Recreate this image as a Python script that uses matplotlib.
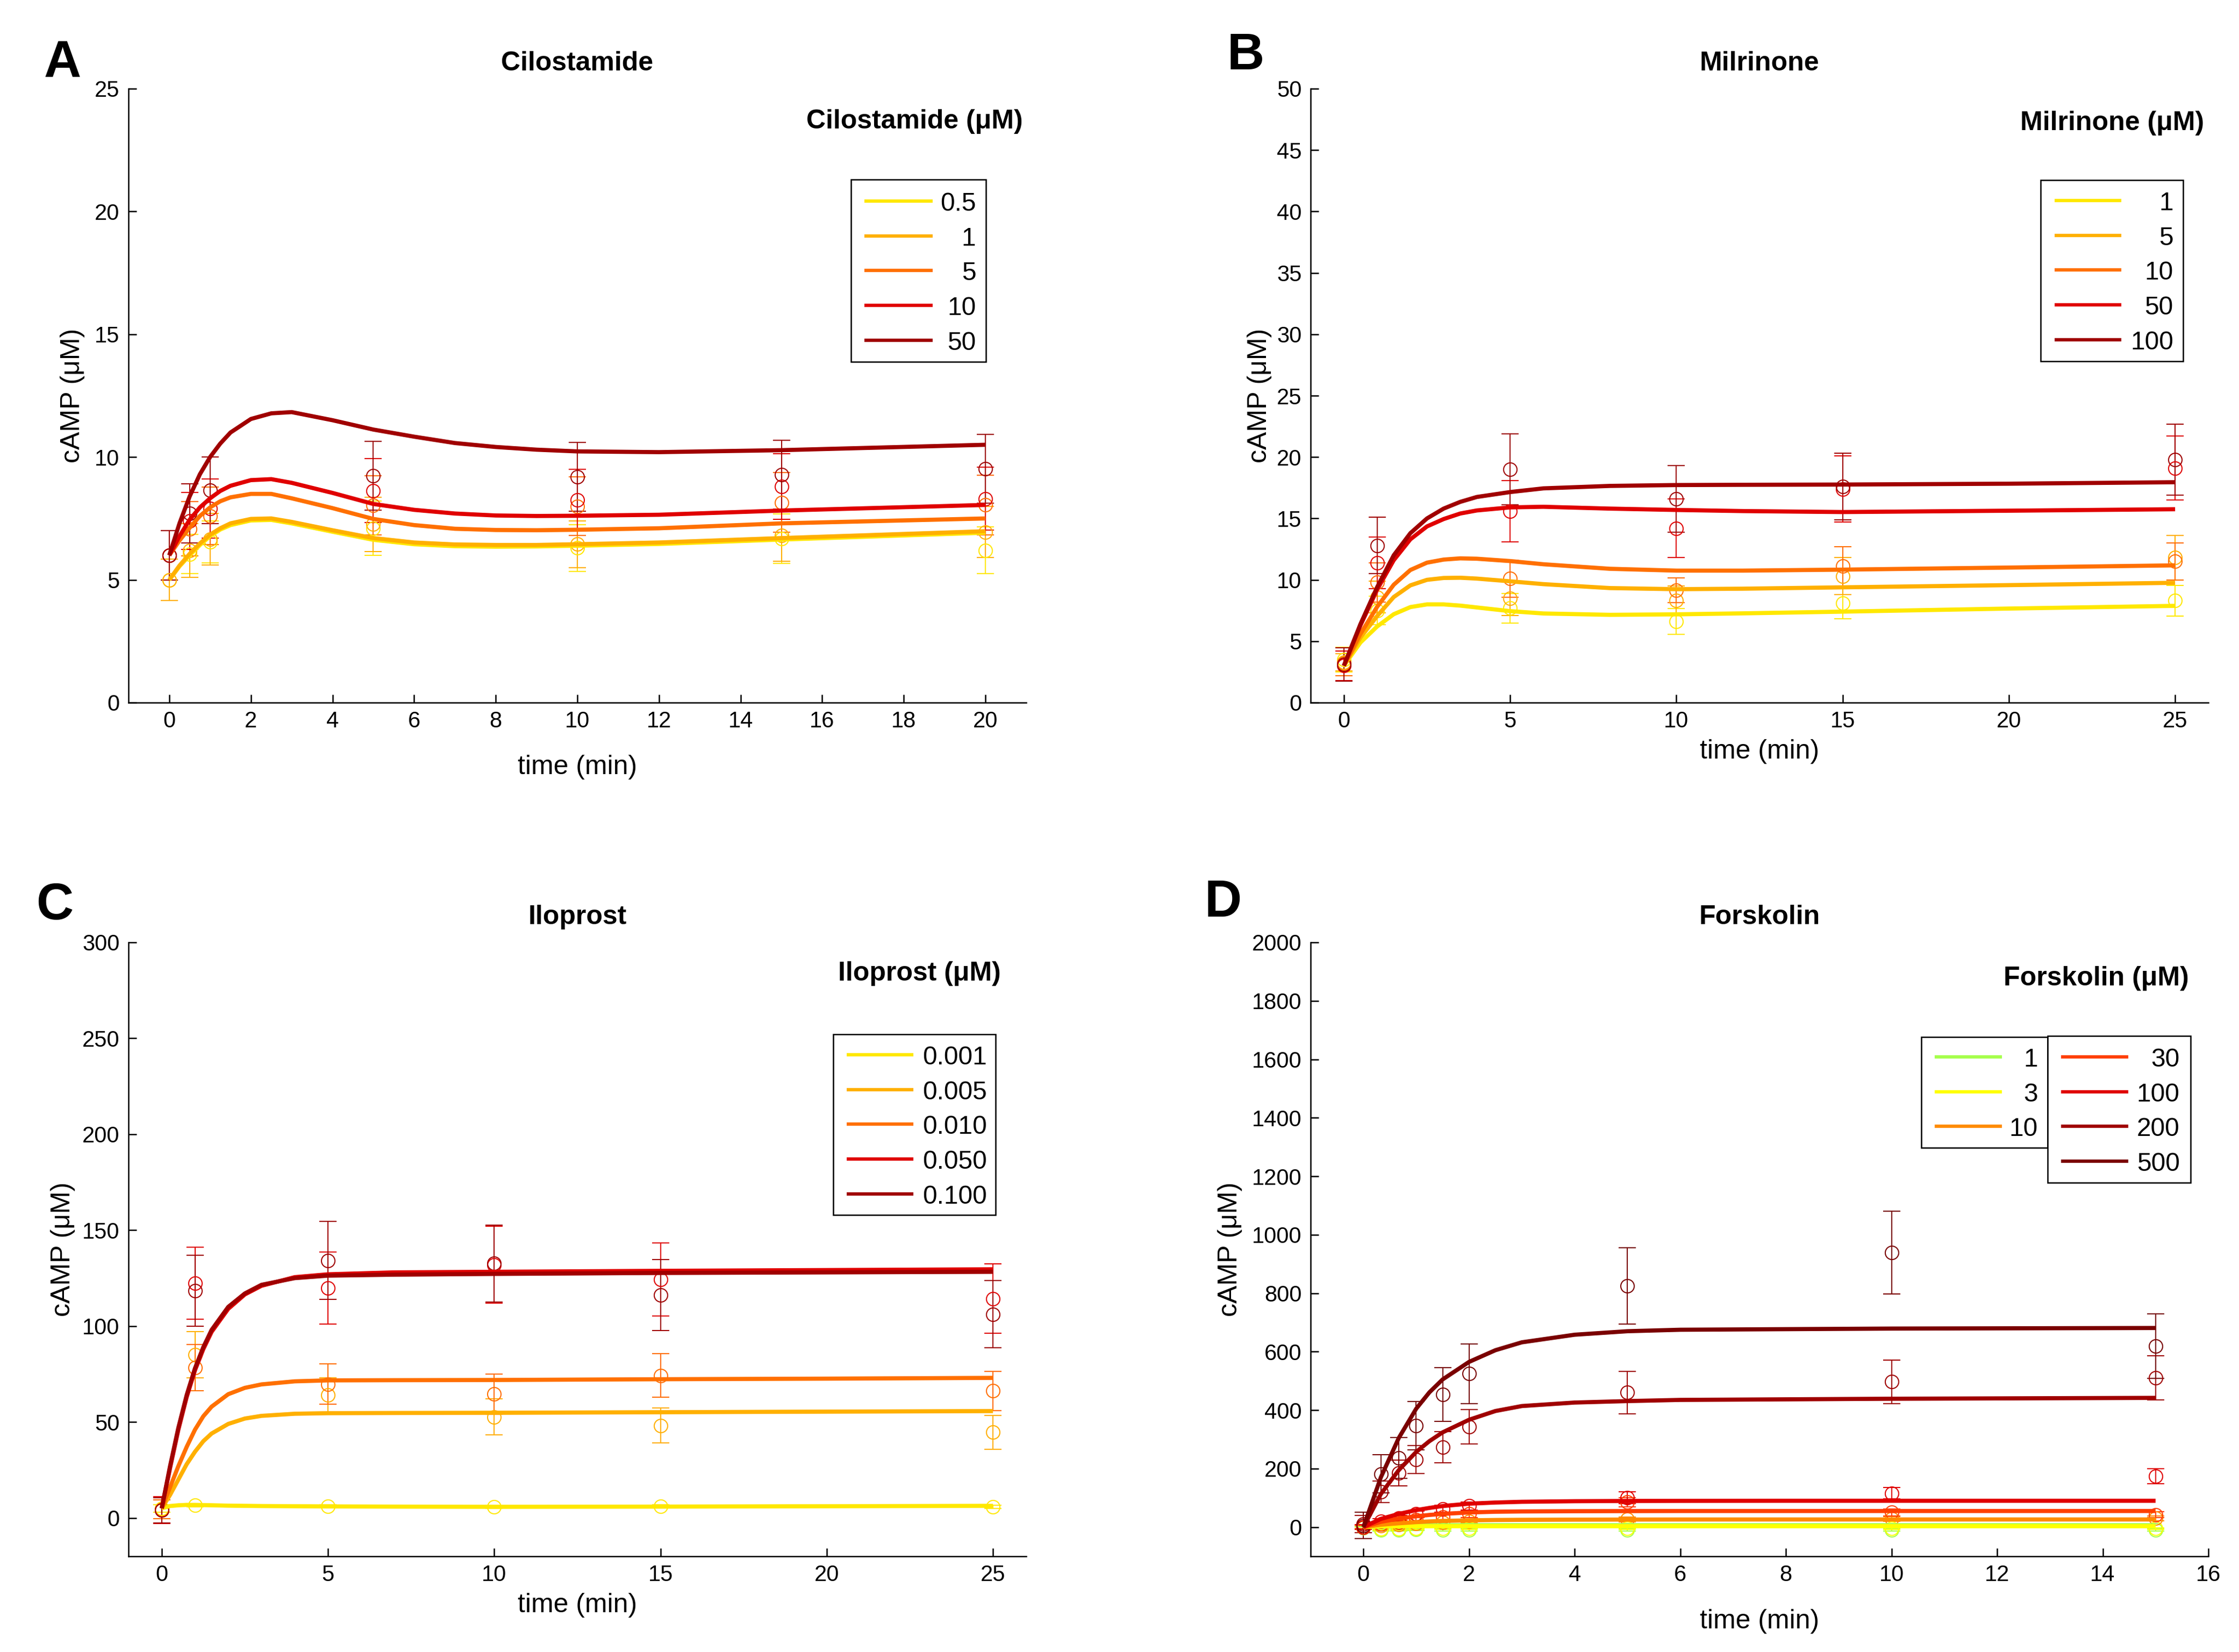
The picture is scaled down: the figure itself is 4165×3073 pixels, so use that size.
import matplotlib
matplotlib.use("Agg")
import matplotlib.pyplot as plt
from matplotlib.lines import Line2D
from matplotlib.patches import Rectangle
from matplotlib import font_manager as fm

_names = {f.name for f in fm.fontManager.ttflist}
FONT = 'Liberation Sans' if 'Liberation Sans' in _names else 'DejaVu Sans'
plt.rcParams['font.family'] = [FONT, 'DejaVu Sans']

# ---------------- Panel A: Cilostamide ----------------
A_labels = ['0.5', '1', '5', '10', '50']
A_colors = ['#FFE800', '#FFB000', '#FF7000', '#E00000', '#A00000']
A_t_fit = [0, 0.25, 0.5, 0.75, 1, 1.25, 1.5, 2, 2.5, 3, 4, 5, 6, 7, 8, 9, 10, 12, 15, 20]
A_fit_05 = [5.0, 5.55, 6.0, 6.42, 6.78, 7.05, 7.23, 7.42, 7.44, 7.3, 6.96, 6.63, 6.45, 6.37, 6.35, 6.36, 6.39, 6.46, 6.64, 6.92]
A_fit_1 = [5.0, 5.58, 6.06, 6.48, 6.84, 7.1, 7.3, 7.48, 7.5, 7.36, 7.02, 6.7, 6.52, 6.44, 6.42, 6.42, 6.45, 6.52, 6.7, 6.98]
A_fit_5 = [6.0, 6.6, 7.12, 7.6, 7.95, 8.2, 8.36, 8.5, 8.5, 8.32, 7.92, 7.48, 7.23, 7.08, 7.03, 7.02, 7.04, 7.1, 7.3, 7.5]
A_fit_10 = [6.0, 6.78, 7.45, 7.95, 8.32, 8.62, 8.83, 9.06, 9.1, 8.95, 8.54, 8.09, 7.85, 7.7, 7.62, 7.6, 7.61, 7.65, 7.82, 8.05]
A_fit_50 = [6.0, 7.3, 8.4, 9.3, 10.0, 10.55, 11.0, 11.55, 11.78, 11.83, 11.5, 11.12, 10.83, 10.57, 10.41, 10.3, 10.23, 10.2, 10.28, 10.5]
A_t_obs = [0, 0.5, 1, 5, 10, 15, 20]
A_obs_05 = [5.0, 6.05, 6.55, 7.1, 6.3, 6.68, 6.2]
A_err_05 = [0.85, 0.8, 0.85, 1.1, 0.95, 1.0, 0.95]
A_obs_1 = [5.0, 6.2, 6.65, 7.26, 6.45, 6.8, 6.95]
A_err_1 = [0.85, 1.1, 1.05, 1.1, 0.95, 1.05, 1.05]
A_obs_5 = [6.0, 7.08, 7.6, 8.04, 8.0, 8.15, 8.05]
A_err_5 = [1.0, 1.1, 1.17, 1.2, 1.2, 1.22, 1.22]
A_obs_10 = [6.0, 7.4, 7.9, 8.63, 8.25, 8.8, 8.3]
A_err_10 = [1.0, 1.15, 1.2, 1.3, 1.25, 1.33, 1.28]
A_obs_50 = [6.0, 7.7, 8.65, 9.23, 9.2, 9.28, 9.52]
A_err_50 = [1.0, 1.2, 1.35, 1.4, 1.4, 1.4, 1.4]

# ---------------- Panel B: Milrinone ----------------
B_labels = ['1', '5', '10', '50', '100']
B_colors = ['#FFE800', '#FFB000', '#FF7000', '#E00000', '#A00000']
B_t_fit = [0, 0.5, 1, 1.5, 2, 2.5, 3, 3.5, 4, 5, 6, 8, 10, 12, 15, 20, 25]
B_fit_1 = [3.0, 4.9, 6.2, 7.2, 7.78, 8.0, 8.0, 7.9, 7.75, 7.45, 7.26, 7.15, 7.19, 7.27, 7.41, 7.66, 7.88]
B_fit_5 = [3.0, 5.3, 7.05, 8.6, 9.55, 10.0, 10.15, 10.17, 10.1, 9.88, 9.65, 9.33, 9.24, 9.28, 9.39, 9.57, 9.76]
B_fit_10 = [3.0, 5.6, 7.8, 9.6, 10.8, 11.4, 11.65, 11.75, 11.72, 11.53, 11.27, 10.9, 10.75, 10.75, 10.83, 11.0, 11.18]
B_fit_50 = [3.0, 6.3, 9.2, 11.6, 13.3, 14.35, 14.95, 15.4, 15.65, 15.9, 15.95, 15.8, 15.69, 15.6, 15.52, 15.63, 15.75]
B_fit_100 = [3.0, 6.4, 9.4, 12.0, 13.8, 15.0, 15.8, 16.35, 16.75, 17.15, 17.45, 17.65, 17.72, 17.74, 17.76, 17.83, 17.95]
B_t_obs = [0, 1, 5, 10, 15, 25]
B_obs_1 = [3.5, 7.5, 7.7, 6.6, 8.1, 8.3]
B_err_1 = [1.0, 1.15, 1.2, 1.05, 1.25, 1.25]
B_obs_5 = [3.3, 8.6, 8.5, 8.3, 10.3, 11.8]
B_err_5 = [0.7, 1.3, 1.4, 1.2, 1.5, 1.8]
B_obs_10 = [3.2, 9.8, 10.1, 9.15, 11.1, 11.5]
B_err_10 = [1.0, 1.6, 1.5, 1.0, 1.6, 1.5]
B_obs_50 = [3.0, 11.4, 15.6, 14.2, 17.4, 19.1]
B_err_50 = [1.2, 2.1, 2.5, 2.4, 2.7, 2.6]
B_obs_100 = [3.1, 12.8, 19.0, 16.6, 17.6, 19.8]
B_err_100 = [1.35, 2.3, 2.9, 2.7, 2.7, 2.9]

# ---------------- Panel C: Iloprost ----------------
C_labels = ['0.001', '0.005', '0.010', '0.050', '0.100']
C_colors = ['#FFE800', '#FFB000', '#FF7000', '#E00000', '#A00000']
C_t_fit = [0, 0.25, 0.5, 0.75, 1, 1.25, 1.5, 2, 2.5, 3, 4, 5, 7, 10, 15, 20, 25]
C_fit_0001 = [5, 6.2, 6.6, 6.8, 6.8, 6.7, 6.6, 6.4, 6.3, 6.2, 6.1, 6.0, 5.9, 5.8, 5.9, 6.1, 6.3]
C_fit_0005 = [5, 12, 20, 28, 34.5, 40, 44, 49, 51.8, 53.2, 54.3, 54.6, 54.7, 54.8, 55.1, 55.4, 55.7]
C_fit_0010 = [5, 16, 27, 37, 46, 53, 58, 64.5, 67.8, 69.6, 71.2, 71.7, 71.8, 71.9, 72.3, 72.6, 73.0]
C_fit_0050 = [5, 26, 46, 63, 77, 88, 97, 109, 116.5, 121, 125.5, 127, 128, 128.3, 128.8, 129.2, 129.6]
C_fit_0100 = [5, 27, 47, 64, 78, 89, 98, 110, 117, 121.5, 125, 126.3, 126.8, 127.2, 127.7, 128.0, 128.3]
C_t_obs = [0, 1, 5, 10, 15, 25]
C_obs_0001 = [5, 6.5, 6.0, 5.8, 6.0, 5.8]
C_err_0001 = [2, 0.8, 0.8, 0.8, 0.8, 0.8]
C_obs_0005 = [4.5, 85, 64, 52.7, 48.2, 44.6]
C_err_0005 = [5, 12, 9, 9.4, 9, 8.7]
C_obs_0010 = [4.5, 78.4, 69.7, 64.6, 74.2, 66.2]
C_err_0010 = [5, 12, 10.5, 10.5, 11.3, 10.3]
C_obs_0050 = [4, 122.4, 119.8, 132, 124.3, 114.3]
C_err_0050 = [7, 18.7, 18.7, 20, 19, 18]
C_obs_0100 = [4, 118.4, 134.2, 132.6, 116.2, 106.2]
C_err_0100 = [6.5, 18.6, 20.3, 20, 18.5, 17.5]

# ---------------- Panel D: Forskolin ----------------
D_labels = ['1', '3', '10', '30', '100', '200', '500']
D_colors = ['#A6FF4D', '#FFFF00', '#FF8C00', '#FF4000', '#E00000', '#A00000', '#7A0000']
D_t_fit = [0, 0.33, 0.67, 1, 1.25, 1.5, 2, 2.5, 3, 4, 5, 6, 8, 10, 15]
D_fit_1 = [0, 4, 5.5, 6, 6.2, 6.3, 6.5, 6.5, 6.5, 6.5, 6.5, 6.5, 6.5, 6.5, 6.5]
D_fit_3 = [0, 2, 2.6, 2.9, 3, 3, 3, 3, 3, 3, 3, 3, 3, 3, 3]
D_fit_10 = [0, 8, 13, 17, 19.2, 21, 23, 24.2, 24.8, 25.4, 25.7, 25.9, 26, 26, 26]
D_fit_30 = [0, 18, 29, 37, 41.5, 45, 50, 52.5, 53.5, 54.3, 54.7, 55, 55, 55, 55]
D_fit_100 = [0, 28, 45, 58, 65.5, 72, 80, 84, 86.5, 88.5, 89.3, 89.7, 90, 90, 90]
D_fit_200 = [0, 113, 195, 257, 294, 324, 367, 397, 414, 426, 431, 435, 437, 439, 442]
D_fit_500 = [0, 170, 305, 405, 461, 505, 565, 605, 632, 658, 670, 675, 677, 679, 681]
D_t_obs = [0, 0.33, 0.67, 1, 1.5, 2, 5, 10, 15]
D_obs_1 = [-2, -10, -10, -8, -10, -10, -10, -10, -10]
D_err_1 = [4, 3, 3, 3, 3, 3, 3, 3, 3]
D_obs_3 = [0, -6, -6, -5, -5, -5, -5, -5, -5]
D_err_3 = [4, 3, 3, 3, 3, 3, 3, 3, 3]
D_obs_10 = [0, 5, 8, 12, 15, 20, 26, 28, 30]
D_err_10 = [5, 4, 5, 5, 6, 6, 8, 8, 8]
D_obs_30 = [0, 10, 15, 25, 35, 45, 85, 50, 42]
D_err_30 = [6, 6, 8, 8, 10, 12, 15, 12, 10]
D_obs_100 = [0, 20, 30, 45, 62, 72, 100, 116, 174]
D_err_100 = [8, 8, 10, 10, 12, 14, 20, 20, 26]
D_obs_200 = [10, 121, 185, 231, 273, 343, 460, 497, 510]
D_err_200 = [30, 37, 45, 47, 53, 59, 72, 75, 75]
D_obs_500 = [5, 182, 236, 347, 454, 525, 825, 939, 619]
D_err_500 = [45, 65, 70, 83, 92, 102, 130, 141, 111]

# ---------------- drawing helpers ----------------
W, H = 4165, 3073
fig = plt.figure(figsize=(W / 300, H / 300), dpi=300)
fig.patch.set_facecolor('white')

AX_W = 1670 / W
AX_H = 1142 / H
L1, L2 = 239 / W, 2438 / W
B1, B2 = 1 - 1307 / H, 1 - 2895 / H

ROW = 64.7 / 1142      # legend row spacing in axes fraction
BASE = 18 / 1142       # text baseline below line centre


def draw_panel(ax, t_fit, fits, t_obs, obs, errs, colors):
    for f, c in zip(fits, colors):
        ax.plot(t_fit, f, color=c, lw=1.85, solid_capstyle='butt',
                solid_joinstyle='round', zorder=3)
    for m, e, c in zip(obs, errs, colors):
        ax.errorbar(t_obs, m, yerr=e, fmt='o', color=c, mfc='none', mec=c,
                    ms=6, mew=0.5, elinewidth=0.5, capsize=3.8, capthick=0.8,
                    zorder=2)


def style_axes(ax, xlim, ylim, xticks, yticks):
    ax.set_xlim(*xlim)
    ax.set_ylim(*ylim)
    ax.set_xticks(xticks)
    ax.set_yticks(yticks)
    for s in ('top', 'right'):
        ax.spines[s].set_visible(False)
    for s in ('left', 'bottom'):
        ax.spines[s].set_linewidth(0.6)
    ax.tick_params(axis='both', direction='in', length=3.5, width=0.6,
                   labelsize=10)
    ax.tick_params(axis='x', pad=3.5)
    ax.tick_params(axis='y', pad=4)


def labels(ax, title, xl_y, yl_x, leg_title, lt_x, lt_y):
    ax.text(0.5, 1.030, title, transform=ax.transAxes, ha='center',
            va='baseline', fontsize=12, fontweight='bold')
    ax.set_xlabel('time (min)', fontsize=12)
    ax.xaxis.set_label_coords(0.5, xl_y)
    ax.xaxis.label.set_verticalalignment('center')
    ax.set_ylabel('cAMP (\u03bcM)', fontsize=12)
    ax.yaxis.set_label_coords(yl_x, 0.5)
    ax.yaxis.label.set_verticalalignment('center')
    ax.text(lt_x, lt_y, leg_title, transform=ax.transAxes, ha='right',
            va='baseline', fontsize=12, fontweight='bold')


def draw_legend(ax, labs, cols, box, line_x, text_x, y0):
    x0, x1, yb, yt = box
    ax.add_patch(Rectangle((x0, yb), x1 - x0, yt - yb, transform=ax.transAxes,
                           facecolor='white', edgecolor='black', lw=0.6,
                           zorder=5, clip_on=False))
    for i, (lab, col) in enumerate(zip(labs, cols)):
        y = y0 - i * ROW
        ax.add_line(Line2D(line_x, [y, y], transform=ax.transAxes, color=col,
                           lw=1.5, solid_capstyle='butt', zorder=6,
                           clip_on=False))
        ax.text(text_x, y - BASE, lab, transform=ax.transAxes, ha='right',
                va='baseline', fontsize=11.5, zorder=6)


# ---------------- Panel A ----------------
axA = fig.add_axes([L1, B1, AX_W, AX_H])
draw_panel(axA, A_t_fit, [A_fit_05, A_fit_1, A_fit_5, A_fit_10, A_fit_50],
           A_t_obs, [A_obs_05, A_obs_1, A_obs_5, A_obs_10, A_obs_50],
           [A_err_05, A_err_1, A_err_5, A_err_10, A_err_50], A_colors)
style_axes(axA, (-1, 21), (0, 25), range(0, 21, 2), range(0, 26, 5))
labels(axA, 'Cilostamide', -0.105, -0.062, 'Cilostamide (\u03bcM)', 0.996, 0.935)
draw_legend(axA, A_labels, A_colors, (0.805, 0.955, 0.555, 0.852),
            [0.820, 0.896], 0.944, 0.817)

# ---------------- Panel B ----------------
axB = fig.add_axes([L2, B1, AX_W, AX_H])
draw_panel(axB, B_t_fit, [B_fit_1, B_fit_5, B_fit_10, B_fit_50, B_fit_100],
           B_t_obs, [B_obs_1, B_obs_5, B_obs_10, B_obs_50, B_obs_100],
           [B_err_1, B_err_5, B_err_10, B_err_50, B_err_100], B_colors)
style_axes(axB, (-1, 26), (0, 50), range(0, 26, 5), range(0, 51, 5))
labels(axB, 'Milrinone', -0.080, -0.057, 'Milrinone (\u03bcM)', 0.995, 0.933)
draw_legend(axB, B_labels, B_colors, (0.813, 0.972, 0.556, 0.851),
            [0.829, 0.903], 0.961, 0.818)

# ---------------- Panel C ----------------
axC = fig.add_axes([L1, B2, AX_W, AX_H])
draw_panel(axC, C_t_fit, [C_fit_0001, C_fit_0005, C_fit_0010, C_fit_0050, C_fit_0100],
           C_t_obs, [C_obs_0001, C_obs_0005, C_obs_0010, C_obs_0050, C_obs_0100],
           [C_err_0001, C_err_0005, C_err_0010, C_err_0050, C_err_0100], C_colors)
style_axes(axC, (-1, 26), (-20, 300), range(0, 26, 5), range(0, 301, 50))
labels(axC, 'Iloprost', -0.080, -0.073, 'Iloprost (\u03bcM)', 0.972, 0.938)
draw_legend(axC, C_labels, C_colors, (0.785, 0.966, 0.556, 0.850),
            [0.800, 0.874], 0.956, 0.817)

# ---------------- Panel D ----------------
axD = fig.add_axes([L2, B2, AX_W, AX_H])
draw_panel(axD, D_t_fit, [D_fit_1, D_fit_3, D_fit_10, D_fit_30, D_fit_100, D_fit_200, D_fit_500],
           D_t_obs, [D_obs_1, D_obs_3, D_obs_10, D_obs_30, D_obs_100, D_obs_200, D_obs_500],
           [D_err_1, D_err_3, D_err_10, D_err_30, D_err_100, D_err_200, D_err_500], D_colors)
style_axes(axD, (-1, 16), (-100, 2000), range(0, 17, 2), range(0, 2001, 200))
labels(axD, 'Forskolin', -0.106, -0.090, 'Forskolin (\u03bcM)', 0.978, 0.930)
draw_legend(axD, D_labels[:3], D_colors[:3], (0.680, 0.821, 0.6655, 0.846),
            [0.695, 0.770], 0.810, 0.8135)
draw_legend(axD, D_labels[3:], D_colors[3:], (0.821, 0.980, 0.609, 0.848),
            [0.836, 0.911], 0.968, 0.8135)

# ---------------- panel letters ----------------
for letter, (x, y) in zip('ABCD', [(116, 143), (2317, 129), (102, 1710), (2275, 1705)]):
    fig.text(x / W, 1 - y / H, letter, ha='center', va='baseline',
             fontsize=23, fontweight='bold')

fig.savefig('out.png', dpi=300, facecolor='white')
